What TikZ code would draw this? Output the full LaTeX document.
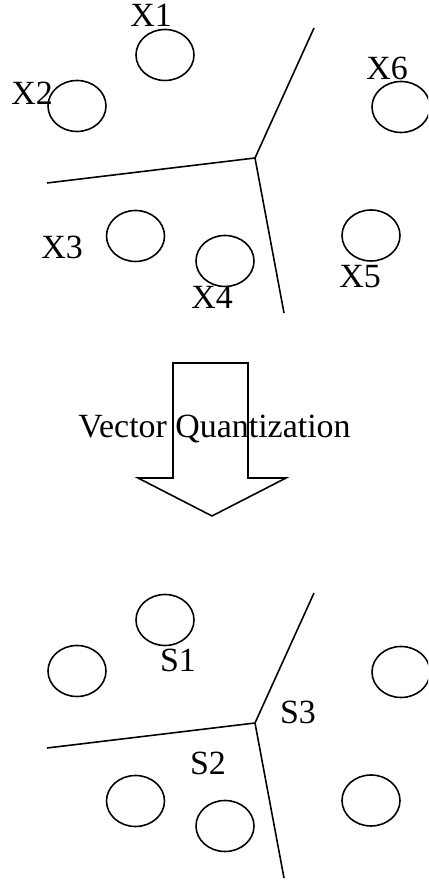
\documentclass[tikz,border=0pt]{standalone}
\usepackage{fontspec}
\setmainfont{Liberation Serif}
\usepackage{tikz}
\usetikzlibrary{shapes.geometric}

\begin{document}
\begin{tikzpicture}[
            pt/.style={ellipse, draw, line width=0.9pt, minimum width=1.16cm, minimum height=1.02cm, inner sep=0pt},
            lbl/.style={font=\fontsize{19.3}{23}\selectfont, inner sep=0pt},
            edge/.style={line width=0.9pt}]
            \path[use as bounding box, clip] (0,0) rectangle (8.56,17.68);
            \foreach \n/\x/\y in {1/3.30/16.58, 2/1.54/15.56, 3/2.71/12.96, 4/4.50/12.46, 5/7.42/12.97, 6/8.02/15.54} {
                \node[pt] (x\n) at (\x,\y) {};
                \node[pt] (s\n) at (\x,\y-11.30) {};
            }
            \node[lbl] (lx1) at (3.02,17.38) {X1};
            \node[lbl] (lx2) at (0.64,15.82) {X2};
            \node[lbl] (lx3) at (1.24,12.74) {X3};
            \node[lbl] (lx4) at (4.24,11.74) {X4};
            \node[lbl] (lx5) at (7.20,12.14) {X5};
            \node[lbl] (lx6) at (7.74,16.32) {X6};
            \node[lbl] (ls1) at (3.56,4.48) {S1};
            \node[lbl] (ls2) at (4.16,2.42) {S2};
            \node[lbl] (ls3) at (5.96,3.44) {S3};
            \foreach \k/\d in {t/0, b/11.30} {
                \coordinate (j\k) at (5.10,14.52-\d);
                \coordinate (u\k) at (6.28,17.12-\d);
                \coordinate (l\k) at (0.94,14.02-\d);
                \coordinate (d\k) at (5.68,11.42-\d);
                \draw[edge] (u\k) -- (j\k) -- (l\k);
                \draw[edge] (j\k) -- (d\k);
            }
            \coordinate (a1) at (3.46,10.42);
            \coordinate (a2) at (4.96,10.42);
            \coordinate (a3) at (4.96,8.12);
            \coordinate (a4) at (5.72,8.12);
            \coordinate (tip) at (4.24,7.36);
            \coordinate (a6) at (2.76,8.12);
            \coordinate (a7) at (3.46,8.12);
            \draw[edge] (a1) -- (a2) -- (a3) -- (a4) -- (tip) -- (a6) -- (a7) -- cycle;
            \node[lbl, anchor=base] (vq) at (4.29,8.92) {Vector Quantization};
        \end{tikzpicture}
\end{document}
